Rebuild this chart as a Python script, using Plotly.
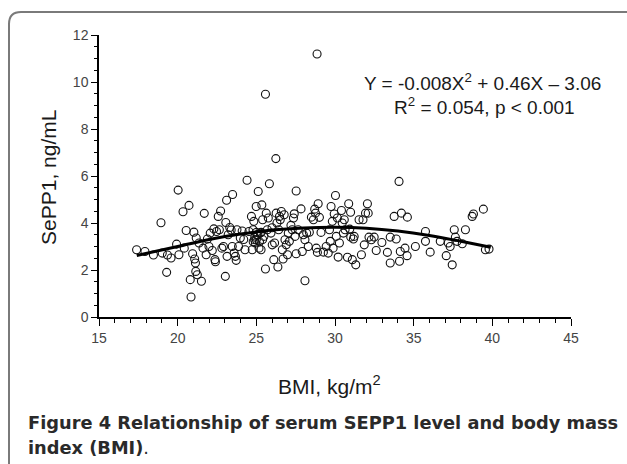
import plotly.graph_objects as go

# Scatter data (BMI, SePP1)
bmi = [17.39, 17.92, 18.46, 18.94, 19.02, 19.30, 19.35, 19.58, 19.93, 20.03, 20.08, 20.34, 20.42, 20.54,
       20.72, 20.80, 20.85, 20.95, 21.03, 21.08, 21.13, 21.15, 21.25, 21.18, 21.36, 21.51, 21.69, 21.61,
       21.81, 21.89, 21.99, 22.07, 22.20, 22.37, 22.40, 22.47, 22.58, 22.73, 22.65, 22.81, 22.91, 23.03,
       23.11, 23.06, 23.14, 23.21, 23.31, 23.49, 23.47, 23.59, 23.67, 23.72, 23.77, 23.87, 23.98, 24.10,
       24.28, 24.41, 24.53, 24.69, 24.74, 24.79, 24.84, 24.89, 24.94, 24.99, 25.04, 25.12, 25.17, 25.25,
       25.30, 25.35, 25.40, 25.48, 25.58, 25.58, 25.63, 25.70, 25.76, 25.83, 25.93, 26.01, 26.11, 26.16,
       26.24, 26.26, 26.31, 26.37, 26.42, 26.47, 26.52, 26.59, 26.65, 26.70, 26.77, 26.82, 26.90, 26.98,
       27.03, 27.10, 27.28, 27.36, 27.41, 27.46, 27.53, 27.53, 27.66, 27.84, 27.92, 27.99, 28.09, 28.09,
       28.20, 28.30, 28.37, 28.50, 28.63, 28.71, 28.76, 28.81, 28.86, 28.88, 28.93, 29.01, 29.11, 29.26,
       29.44, 29.57, 29.65, 29.70, 29.75, 29.83, 29.88, 29.95, 30.03, 30.08, 30.15, 30.20, 30.28, 30.41,
       30.46, 30.53, 30.59, 30.64, 30.79, 30.87, 30.94, 30.99, 31.10, 31.17, 31.22, 31.32, 31.53, 31.68,
       31.78, 31.86, 31.94, 32.06, 32.11, 32.16, 32.31, 32.49, 32.62, 32.98, 33.33, 33.51, 33.51, 33.76,
       33.89, 34.07, 34.10, 34.15, 34.22, 34.45, 34.58, 34.60, 35.11, 35.75, 35.75, 36.05, 36.69, 37.07,
       37.20, 37.32, 37.45, 37.58, 37.65, 37.76, 38.09, 38.29, 38.72, 38.80, 39.43, 39.56, 39.79,
       25.00, 25.10, 25.20, 24.90, 25.30, 25.40, 24.80, 25.00, 22.30, 23.40, 24.20, 26.00, 27.20, 31.00]
sepp1 = [2.86, 2.79, 2.64, 4.01, 2.72, 1.90, 2.64, 2.51, 3.10, 5.40, 2.65, 4.48, 2.93, 3.68,
         4.75, 1.59, 0.85, 2.69, 3.61, 2.47, 2.30, 1.94, 1.80, 3.36, 3.15, 1.52, 4.41, 2.93,
         2.65, 3.32, 3.00, 3.57, 2.83, 2.44, 2.35, 3.64, 4.28, 4.51, 3.71, 2.93, 3.00, 1.73,
         4.97, 4.02, 2.58, 3.50, 3.81, 5.21, 3.00, 2.72, 2.58, 2.41, 3.71, 3.00, 3.36, 3.66,
         2.86, 5.82, 3.64, 4.28, 2.86, 3.71, 4.07, 3.29, 3.15, 4.70, 3.50, 5.34, 2.93, 3.57,
         2.86, 4.77, 4.14, 3.43, 9.48, 2.04, 4.42, 3.71, 4.21, 5.67, 3.57, 3.07, 2.44, 3.15,
         6.74, 4.42, 4.00, 2.13, 3.71, 4.28, 4.14, 4.49, 2.86, 2.47, 4.35, 3.29, 3.07, 2.65,
         3.57, 3.22, 3.71, 4.21, 4.39, 3.43, 5.36, 2.69, 3.71, 4.60, 2.79, 3.50, 1.54, 3.29,
         3.57, 3.00, 3.61, 4.25, 4.14, 4.59, 4.42, 2.93, 11.19, 2.75, 4.82, 4.24, 3.60, 2.76,
         3.00, 2.72, 3.71, 3.22, 4.70, 4.07, 2.93, 4.38, 5.17, 3.43, 4.21, 2.55, 3.15, 4.53,
         4.00, 3.57, 4.14, 3.71, 2.54, 4.82, 3.74, 4.46, 2.44, 3.32, 3.43, 2.22, 4.14, 2.65,
         4.14, 3.07, 4.42, 4.82, 4.42, 3.40, 3.29, 3.40, 2.83, 3.17, 2.75, 3.40, 2.30, 4.28,
         3.32, 5.77, 2.37, 2.79, 4.42, 2.93, 2.61, 4.25, 3.00, 3.64, 3.22, 2.76, 3.22, 2.61,
         3.15, 3.00, 2.22, 3.71, 3.40, 3.22, 3.12, 3.71, 4.28, 4.38, 4.59, 2.86, 2.89,
         3.30, 3.50, 3.20, 3.40, 3.60, 3.30, 3.20, 3.60, 3.75, 3.70, 3.30, 3.80, 3.90, 3.40]

# Fitted curve as drawn in the reference
fit_x = [17.4, 20.0, 22.0, 24.0, 26.0, 28.0, 30.0, 32.0, 34.0, 36.0, 38.0, 39.9]
fit_y = [2.62, 3.00, 3.30, 3.53, 3.70, 3.79, 3.82, 3.78, 3.66, 3.47, 3.22, 2.97]

x_ticks = [15, 20, 25, 30, 35, 40, 45]
y_ticks = [0, 2, 4, 6, 8, 10, 12]

L, R, T, B = 99, 571, 35, 317
W, H = 627, 464


def px(x):
    return (x - L) / (R - L)


def py(y):
    return (B - y) / (B - T)


fig = go.Figure()
fig.add_trace(go.Scatter(
    x=bmi, y=sepp1, mode="markers",
    marker=dict(symbol="circle-open", size=8, color="#111111", line=dict(width=1.1)),
    showlegend=False, hoverinfo="skip"))
fig.add_trace(go.Scatter(
    x=fit_x, y=fit_y, mode="lines", line=dict(color="black", width=3, shape="spline"),
    showlegend=False, hoverinfo="skip"))

axis_common = dict(
    showgrid=False, zeroline=False, showline=True, linecolor="black", linewidth=1.5,
    ticks="outside", tickcolor="black", tickwidth=1,
    tickfont=dict(family="Liberation Sans, Arial, sans-serif", size=14, color="#444444"),
)

fig.update_xaxes(range=[15, 45], tickvals=x_ticks, ticklen=7,
                 minor=dict(dtick=1, ticklen=4, ticks="outside", tickcolor="black", tickwidth=1),
                 **axis_common)
fig.update_yaxes(range=[0, 12], tickvals=y_ticks, ticklen=6,
                 minor=dict(dtick=0.5, ticklen=3, ticks="outside", tickcolor="black", tickwidth=1),
                 **axis_common)

title_font = dict(family="Liberation Sans, Arial, sans-serif", size=21, color="#1a1a1a")
cap_font = dict(family="DejaVu Sans, sans-serif", size=17.8, color="#2a2a2a")
annotations = [
    dict(text="BMI, kg/m<sup>2</sup>", xref="paper", yref="paper", x=px(329), y=py(385),
         showarrow=False, font=title_font, xanchor="center", yanchor="middle"),
    dict(text="SePP1, ng/mL", xref="paper", yref="paper", x=px(48), y=py(178), textangle=-90,
         showarrow=False, font=title_font, xanchor="center", yanchor="middle"),
    dict(text="Y = -0.008X<sup>2</sup> + 0.46X \u2013 3.06", xref="paper", yref="paper",
         x=px(482), y=py(82), showarrow=False, xanchor="center", yanchor="middle",
         font=dict(family="Liberation Sans, Arial, sans-serif", size=19, color="#1a1a1a")),
    dict(text="R<sup>2</sup> = 0.054, p < 0.001", xref="paper", yref="paper",
         x=px(484), y=py(106), showarrow=False, xanchor="center", yanchor="middle",
         font=dict(family="Liberation Sans, Arial, sans-serif", size=19, color="#1a1a1a")),
    dict(text="<b>Figure 4 Relationship of serum SEPP1 level and body mass</b>", xref="paper", yref="paper",
         x=px(26), y=py(422), showarrow=False, xanchor="left", yanchor="middle", font=cap_font),
    dict(text="<b>index (BMI)</b>.", xref="paper", yref="paper",
         x=px(26), y=py(447), showarrow=False, xanchor="left", yanchor="middle", font=cap_font),
]

# Rounded frame around figure (top-left corner visible)
path = "M {x0},{y0} L {x0},{y1} Q {x0},{y2} {x3},{y2} L {x4},{y2}".format(
    x0=px(9), y0=py(480), y1=py(24), y2=py(12), x3=px(21), x4=px(640))
shapes = [dict(type="path", xref="paper", yref="paper", path=path,
               line=dict(color="#7a7a7a", width=2))]

fig.update_layout(
    width=W, height=H, margin=dict(l=L, r=W - R, t=T, b=H - B),
    paper_bgcolor="white", plot_bgcolor="white",
    annotations=annotations, shapes=shapes, showlegend=False,
)

fig.write_html("out.html", config={"displayModeBar": False},
               post_script="document.body.style.margin='0';document.body.style.overflow='hidden';")
